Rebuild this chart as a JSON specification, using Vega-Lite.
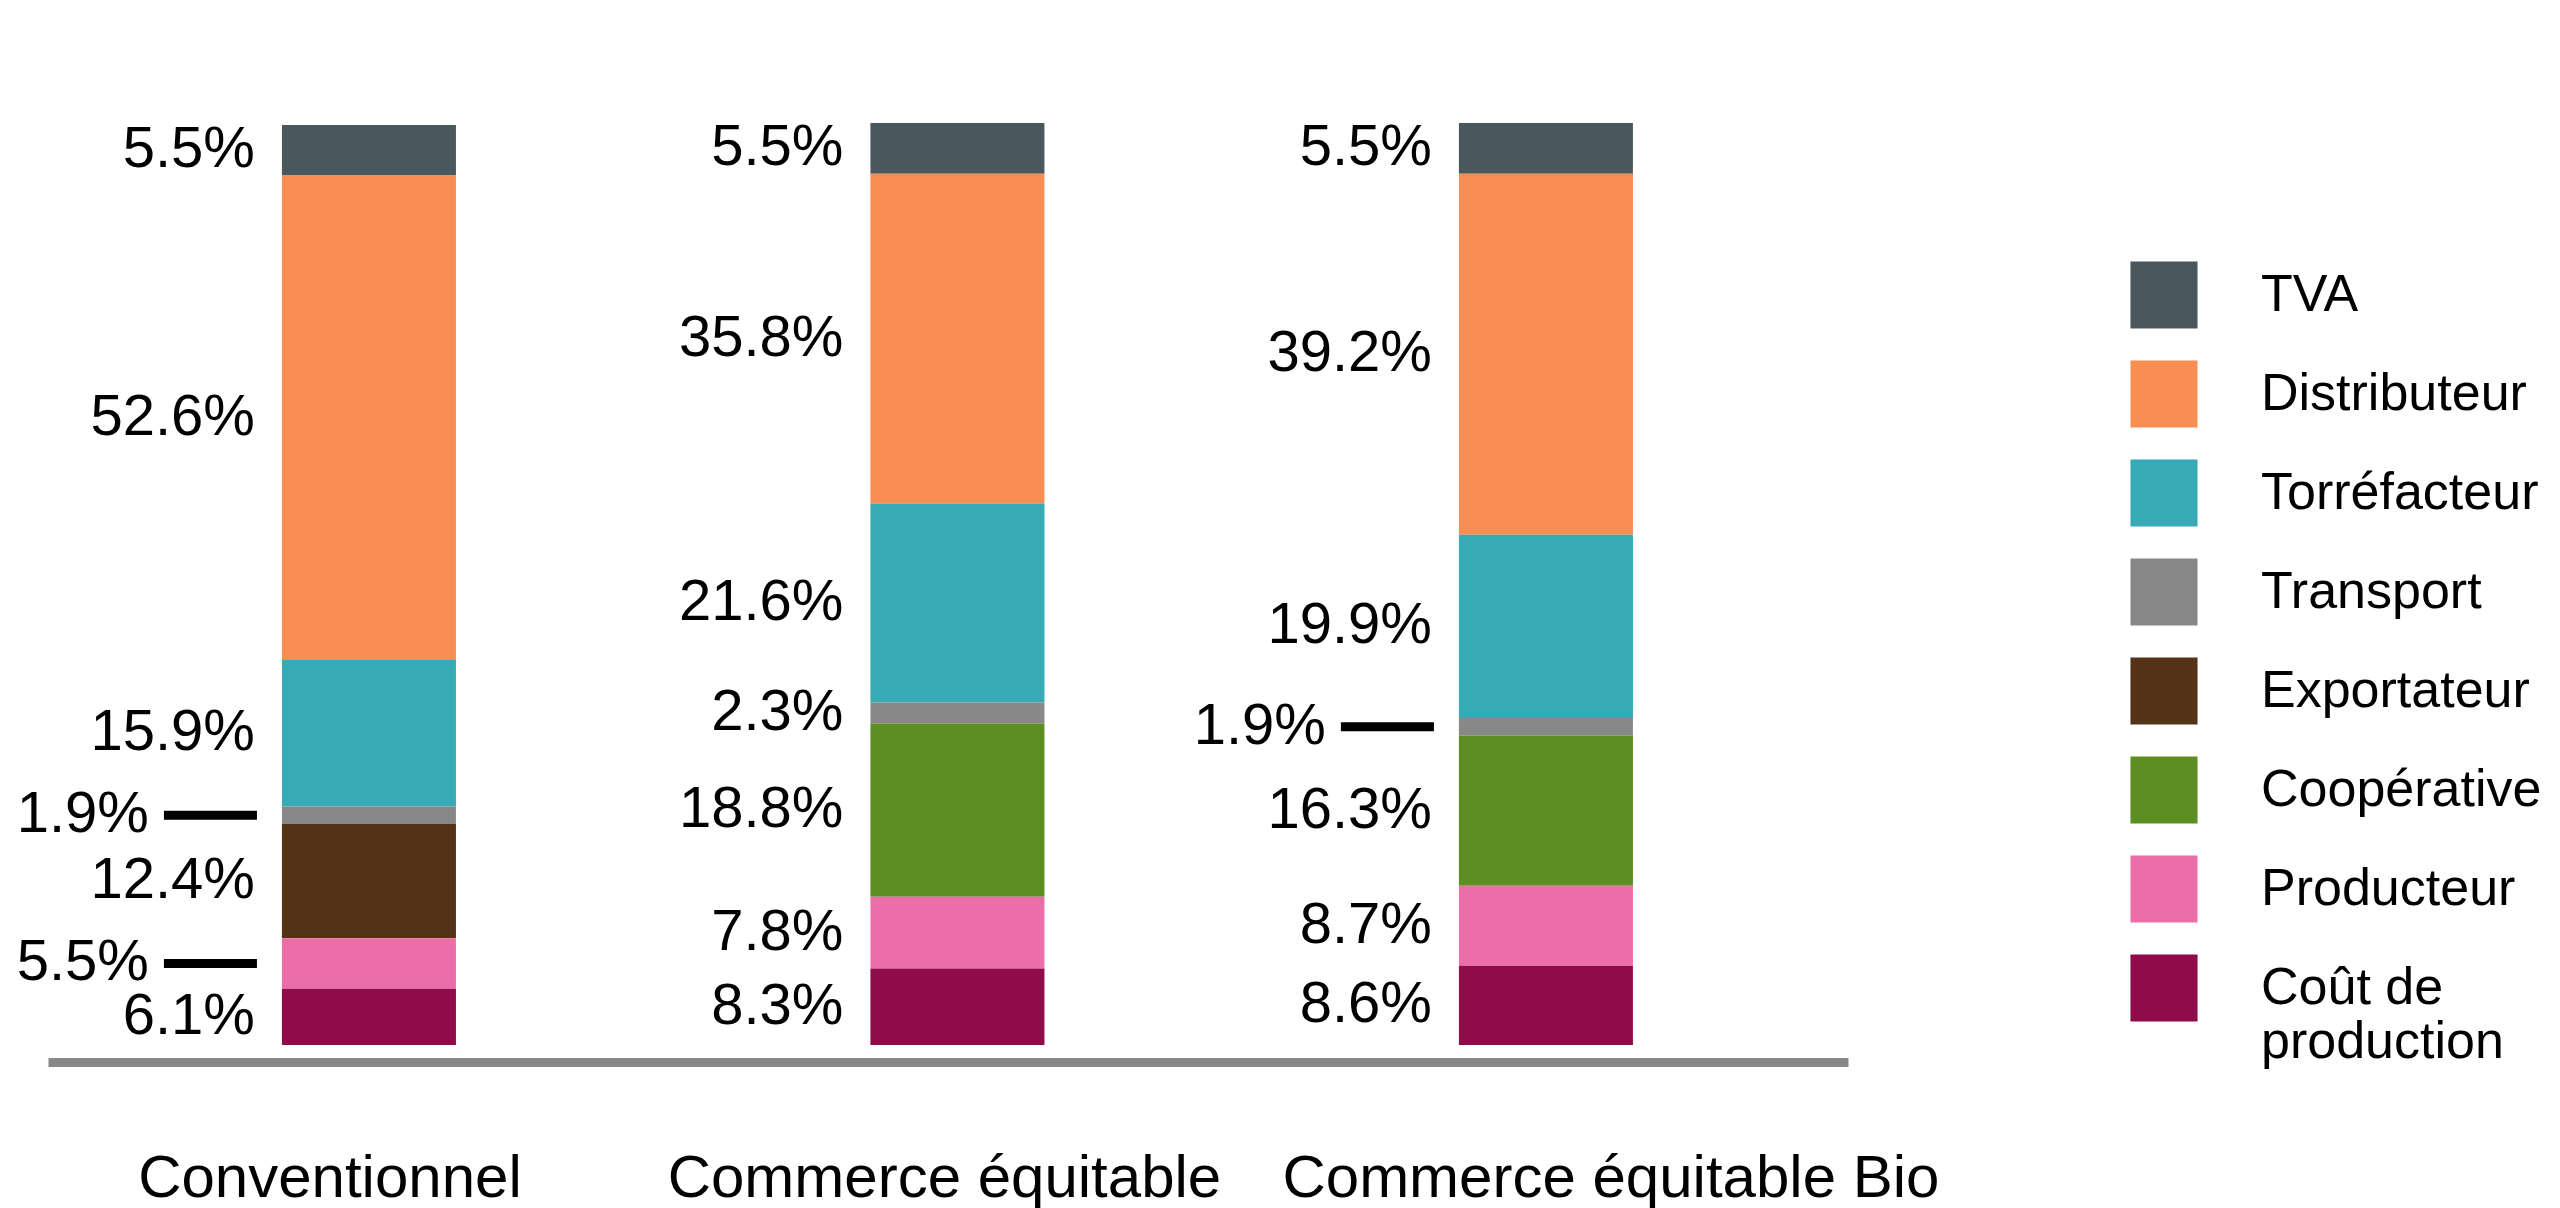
{
  "$schema": "https://vega.github.io/schema/vega-lite/v6.json",
  "autosize": {"type": "none"},
  "padding": {"left": 48, "top": 124, "right": 712, "bottom": 163},
  "width": 1800,
  "height": 921,
  "background": "white",
  "config": {"view": {"stroke": null}, "font": "Liberation Sans"},
  "data": {
    "values": [
      {"cat": "Conventionnel", "seg": "TVA", "value": 5.5},
      {"cat": "Conventionnel", "seg": "Distributeur", "value": 52.6},
      {"cat": "Conventionnel", "seg": "Torréfacteur", "value": 15.9},
      {"cat": "Conventionnel", "seg": "Transport", "value": 1.9},
      {"cat": "Conventionnel", "seg": "Exportateur", "value": 12.4},
      {"cat": "Conventionnel", "seg": "Producteur", "value": 5.5},
      {"cat": "Conventionnel", "seg": "Coût de production", "value": 6.1},
      {"cat": "Commerce équitable", "seg": "TVA", "value": 5.5},
      {"cat": "Commerce équitable", "seg": "Distributeur", "value": 35.8},
      {"cat": "Commerce équitable", "seg": "Torréfacteur", "value": 21.6},
      {"cat": "Commerce équitable", "seg": "Transport", "value": 2.3},
      {"cat": "Commerce équitable", "seg": "Coopérative", "value": 18.8},
      {"cat": "Commerce équitable", "seg": "Producteur", "value": 7.8},
      {"cat": "Commerce équitable", "seg": "Coût de production", "value": 8.3},
      {"cat": "Commerce équitable Bio", "seg": "TVA", "value": 5.5},
      {"cat": "Commerce équitable Bio", "seg": "Distributeur", "value": 39.2},
      {"cat": "Commerce équitable Bio", "seg": "Torréfacteur", "value": 19.9},
      {"cat": "Commerce équitable Bio", "seg": "Transport", "value": 1.9},
      {"cat": "Commerce équitable Bio", "seg": "Coopérative", "value": 16.3},
      {"cat": "Commerce équitable Bio", "seg": "Producteur", "value": 8.7},
      {"cat": "Commerce équitable Bio", "seg": "Coût de production", "value": 8.6}
    ]
  },
  "transform": [
    {"calculate": "indexof(['TVA','Distributeur','Torréfacteur','Transport','Exportateur','Coopérative','Producteur','Coût de production'], datum.seg)", "as": "rank"},
    {"stack": "value", "groupby": ["cat"], "sort": [{"field": "rank", "order": "descending"}], "as": ["y0", "y1"]},
    {"calculate": "(datum.y0 + datum.y1) / 2", "as": "mid"},
    {"calculate": "format(datum.value, '.1f') + '%'", "as": "lbl"},
    {"calculate": "(datum.cat == 'Conventionnel' && (datum.seg == 'Transport' || datum.seg == 'Producteur')) || (datum.cat == 'Commerce équitable Bio' && datum.seg == 'Transport')", "as": "leader"}
  ],
  "layer": [
    {
      "mark": {"type": "bar"},
      "encoding": {
        "x": {
          "field": "cat", "type": "nominal",
          "sort": ["Conventionnel", "Commerce équitable", "Commerce équitable Bio"],
          "scale": {"paddingInner": 0.7043, "paddingOuter": 0.3815, "align": 0.521},
          "axis": {
            "title": null, "orient": "bottom", "offset": 17,
            "domainColor": "#888888", "domainWidth": 9,
            "ticks": false, "tickSize": 0,
            "labelPadding": 134, "labelBaseline": "alphabetic",
            "labelFontSize": 60, "labelColor": "black", "labelAngle": 0,
            "labelFont": "Liberation Sans", "labelLimit": 1000, "labelOverlap": false,
            "labelOffset": {
              "condition": [
                {"test": "datum.value == 'Conventionnel'", "value": -39},
                {"test": "datum.value == 'Commerce équitable Bio'", "value": 65}
              ],
              "value": -13
            }
          }
        },
        "y": {"field": "y0", "type": "quantitative", "scale": {"domain": [0, 100]}, "axis": null},
        "y2": {"field": "y1"},
        "color": {
          "field": "seg", "type": "nominal",
          "scale": {
            "domain": ["TVA", "Distributeur", "Torréfacteur", "Transport", "Exportateur", "Coopérative", "Producteur", "Coût de production"],
            "range": ["#4a585e", "#f98e52", "#36aab5", "#888888", "#533216", "#5c8e21", "#ec6ea8", "#8f0b4a"]
          },
          "legend": {
            "orient": "none", "legendX": 2082, "legendY": 137,
            "title": null, "symbolType": "square", "symbolSize": 4500,
            "symbolStrokeWidth": 0, "labelFontSize": 52, "labelOffset": 63,
            "rowPadding": 31, "labelLimit": 500, "labelFont": "Liberation Sans",
            "labelColor": "black",
            "labelExpr": "datum.label == 'Coût de production' ? ['Coût de', 'production'] : datum.label"
          }
        }
      }
    },
    {
      "transform": [{"filter": "!datum.leader"}],
      "mark": {"type": "text", "align": "right", "baseline": "middle", "dx": -27, "fontSize": 58, "color": "black"},
      "encoding": {
        "x": {"field": "cat", "type": "nominal", "bandPosition": 0, "sort": ["Conventionnel", "Commerce équitable", "Commerce équitable Bio"]},
        "y": {"field": "mid", "type": "quantitative"},
        "text": {"field": "lbl"}
      }
    },
    {
      "transform": [{"filter": "datum.leader"}],
      "mark": {"type": "text", "align": "right", "baseline": "middle", "dx": -133, "fontSize": 58, "color": "black"},
      "encoding": {
        "x": {"field": "cat", "type": "nominal", "bandPosition": 0, "sort": ["Conventionnel", "Commerce équitable", "Commerce équitable Bio"]},
        "y": {"field": "mid", "type": "quantitative"},
        "text": {"field": "lbl"}
      }
    },
    {
      "transform": [{"filter": "datum.leader"}],
      "mark": {"type": "rule", "strokeWidth": 9, "color": "black", "xOffset": -118, "x2Offset": -25},
      "encoding": {
        "x": {"field": "cat", "type": "nominal", "bandPosition": 0, "sort": ["Conventionnel", "Commerce équitable", "Commerce équitable Bio"]},
        "x2": {"field": "cat", "bandPosition": 0},
        "y": {"field": "mid", "type": "quantitative"}
      }
    }
  ]
}
